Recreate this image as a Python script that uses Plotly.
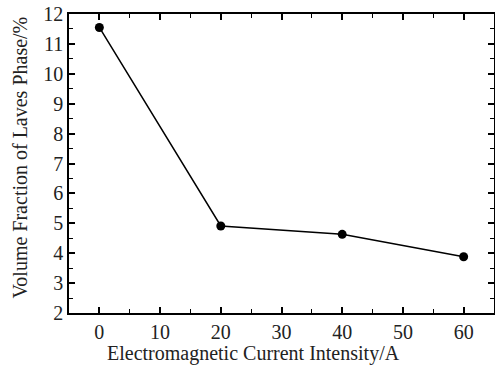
import plotly.graph_objects as go

current = [0, 20, 40, 60]
laves_fraction = [11.55, 4.91, 4.63, 3.88]
x_title = "Electromagnetic Current Intensity/A"
y_title = "Volume Fraction of Laves Phase/%"

fig = go.Figure()
fig.add_trace(go.Scatter(
    x=current, y=laves_fraction, mode="lines+markers",
    line=dict(color="black", width=1.5),
    marker=dict(color="black", size=9),
    showlegend=False,
))

family = "Liberation Serif, Times New Roman, serif"
tick_font = dict(family=family, color="#222", size=20)
title_font = dict(family=family, color="#222", size=20)
axis_common = dict(
    showgrid=False, zeroline=False, showline=True, linecolor="black", linewidth=1.5,
    mirror="ticks", ticks="inside", ticklen=6, tickwidth=1.5, tickcolor="black",
    tickfont=tick_font, automargin=False,
)
fig.update_xaxes(
    range=[-5, 65], tickvals=[0, 10, 20, 30, 40, 50, 60],
    minor=dict(ticks="inside", ticklen=4, tickwidth=1, tickcolor="black", dtick=5, tick0=0),
    **axis_common,
)
fig.update_yaxes(
    range=[2, 12], dtick=1,
    minor=dict(ticks="inside", ticklen=4, tickwidth=1, tickcolor="black", dtick=0.5, tick0=0),
    **axis_common,
)
fig.add_annotation(text=x_title, xref="paper", yref="paper", x=0.433, y=-0.137,
                   xanchor="center", yanchor="middle", showarrow=False, font=title_font)
fig.add_annotation(text=y_title, xref="paper", yref="paper", x=-0.1153, y=0.52,
                   xanchor="center", yanchor="middle", textangle=-90, showarrow=False, font=title_font)
fig.update_layout(
    width=495, height=369,
    margin=dict(l=69, r=1, t=14, b=56),
    plot_bgcolor="white", paper_bgcolor="white",
    font=tick_font,
)
fig.write_html("out.html", config={"displayModeBar": False},
               post_script="document.body.style.margin='0';document.body.style.overflow='hidden';")
